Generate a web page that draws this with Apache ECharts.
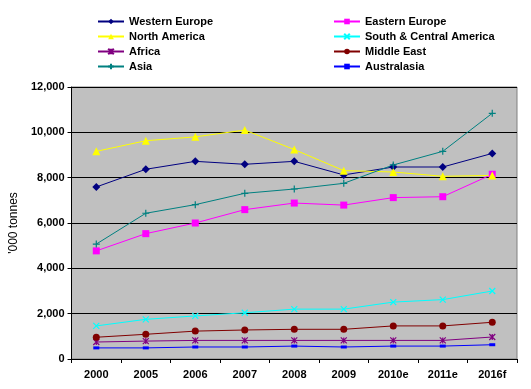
<!DOCTYPE html>
<html>
<head>
<meta charset="utf-8">
<script src="https://cdn.jsdelivr.net/npm/echarts@6/dist/echarts.min.js"></script>
<style>
html,body{margin:0;padding:0;background:#fff;}
#chart{width:531px;height:389px;}
</style>
</head>
<body>
<div id="chart"></div>
<script>
var categories = ['2000','2005','2006','2007','2008','2009','2010e','2011e','2016f'];
var westernEurope = [7590, 8370, 8720, 8590, 8720, 8120, 8470, 8470, 9070];
var easternEurope = [4770, 5530, 6000, 6590, 6880, 6790, 7120, 7160, 8150];
var northAmerica = [9160, 9630, 9800, 10100, 9240, 8310, 8250, 8060, 8100];
var southCentralAmerica = [1460, 1750, 1900, 2040, 2200, 2200, 2510, 2620, 3000];
var africa = [750, 790, 820, 820, 820, 820, 820, 820, 970];
var middleEast = [960, 1090, 1230, 1280, 1310, 1310, 1460, 1460, 1620];
var asia = [5070, 6430, 6810, 7310, 7500, 7750, 8560, 9160, 10840];
var australasia = [490, 490, 530, 530, 570, 530, 570, 570, 630];
var yTicks = [0, 2000, 4000, 6000, 8000, 10000, 12000];

var FONT = 'Liberation Sans, Arial, sans-serif';
var P_X = 'path://M0,0L10,10M10,0L0,10';
var P_PLUS = 'path://M5,0L5,10M0,5L10,5';
var P_STAR = 'path://M0,0L10,10M10,0L0,10M5,0L5,10';

function mk(name, data, color, symbol, size, stroke) {
  return {
    name: name, type: 'line', data: data, symbol: symbol, symbolSize: size,
    showAllSymbol: true,
    lineStyle: {color: color, width: 1},
    itemStyle: {color: color, borderColor: color, borderWidth: stroke ? 1.2 : 0},
    emphasis: {disabled: true}, animation: false, z: 3
  };
}

var legendText = {fontFamily: FONT, fontSize: 11, fontWeight: 'bold', color: '#000', lineHeight: 11};
var chart = echarts.init(document.getElementById('chart'), null, {renderer: 'canvas'});
chart.setOption({
  animation: false,
  backgroundColor: '#ffffff',
  textStyle: {fontFamily: FONT},
  legend: [{
    orient: 'vertical', left: 92, top: 11, itemWidth: 26, itemHeight: 7, itemGap: 4,
    textStyle: legendText,
    data: ['Western Europe', 'North America', 'Africa', 'Asia']
  }, {
    orient: 'vertical', left: 328, top: 11, itemWidth: 26, itemHeight: 7, itemGap: 4,
    textStyle: legendText,
    data: ['Eastern Europe', 'South & Central America', 'Middle East', 'Australasia']
  }],
  grid: {left: 63, right: 14, top: 87, bottom: 30, show: true, backgroundColor: '#C0C0C0', borderColor: '#808080', borderWidth: 1},
  xAxis: {
    type: 'category', data: categories, boundaryGap: true,
    axisLine: {lineStyle: {color: '#000', width: 1}},
    axisTick: {show: true, length: 4, lineStyle: {color: '#000'}},
    axisLabel: {fontFamily: FONT, fontSize: 11, fontWeight: 'bold', color: '#000', margin: 10}
  },
  yAxis: {
    type: 'value', min: yTicks[0], max: yTicks[yTicks.length - 1], interval: 2000,
    name: "'000 tonnes", nameLocation: 'middle', nameGap: 49, nameRotate: 90,
    nameTextStyle: {fontFamily: FONT, fontSize: 12, color: '#000'},
    axisLine: {show: true, lineStyle: {color: '#000', width: 1}},
    axisTick: {show: true, length: 4, lineStyle: {color: '#000'}},
    axisLabel: {fontFamily: FONT, fontSize: 11, fontWeight: 'bold', color: '#000', margin: 7,
      formatter: function (v) { return v.toLocaleString('en-US'); }},
    splitLine: {show: true, lineStyle: {color: '#000', width: 1}}
  },
  series: [
    mk('Western Europe', westernEurope, '#000080', 'diamond', 8, false),
    mk('Eastern Europe', easternEurope, '#FF00FF', 'rect', 7, false),
    mk('North America', northAmerica, '#FFFF00', 'triangle', 8, false),
    mk('South & Central America', southCentralAmerica, '#00FFFF', P_X, 6, true),
    mk('Africa', africa, '#800080', P_STAR, 6, true),
    mk('Middle East', middleEast, '#800000', 'circle', 7, false),
    mk('Asia', asia, '#008080', P_PLUS, 7, true),
    mk('Australasia', australasia, '#0000FF', 'rect', [6, 3], false)
  ]
});
</script>
</body>
</html>
